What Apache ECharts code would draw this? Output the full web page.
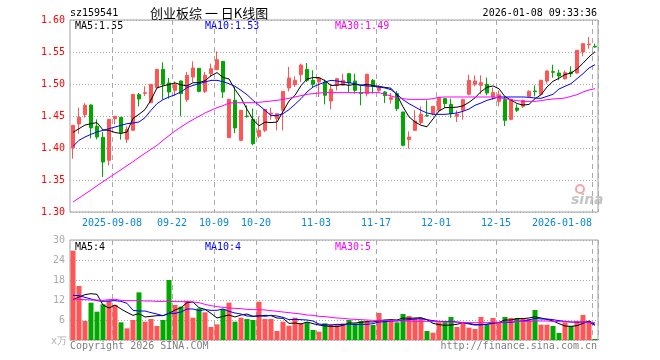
<!DOCTYPE html>
<html><head><meta charset="utf-8">
<script src="https://cdn.jsdelivr.net/npm/echarts@6/dist/echarts.min.js"></script>
<style>html,body{margin:0;padding:0;background:#fff}#c{width:660px;height:360px}</style>
</head><body><div id="c"></div>
<script>
const dates = ['2025-08-28','2025-08-29','2025-09-01','2025-09-02','2025-09-03','2025-09-04','2025-09-05','2025-09-08','2025-09-09','2025-09-10',
'2025-09-11','2025-09-12','2025-09-15','2025-09-16','2025-09-17','2025-09-18','2025-09-19','2025-09-22','2025-09-23','2025-09-24',
'2025-09-25','2025-09-26','2025-09-29','2025-09-30','2025-10-09','2025-10-10','2025-10-13','2025-10-14','2025-10-15','2025-10-16',
'2025-10-17','2025-10-20','2025-10-21','2025-10-22','2025-10-23','2025-10-24','2025-10-27','2025-10-28','2025-10-29','2025-10-30',
'2025-10-31','2025-11-03','2025-11-04','2025-11-05','2025-11-06','2025-11-07','2025-11-10','2025-11-11','2025-11-12','2025-11-13',
'2025-11-14','2025-11-17','2025-11-18','2025-11-19','2025-11-20','2025-11-21','2025-11-24','2025-11-25','2025-11-26','2025-11-27',
'2025-11-28','2025-12-01','2025-12-02','2025-12-03','2025-12-04','2025-12-05','2025-12-08','2025-12-09','2025-12-10','2025-12-11',
'2025-12-12','2025-12-15','2025-12-16','2025-12-17','2025-12-18','2025-12-19','2025-12-22','2025-12-23','2025-12-24','2025-12-25',
'2025-12-26','2025-12-29','2025-12-30','2025-12-31','2026-01-05','2026-01-06','2026-01-07','2026-01-08'];

const opens = [1.400,1.4375,1.452,1.4672,1.4339,1.4167,1.3807,1.4458,1.4479,1.4135,
1.4276,1.4833,1.4855,1.4708,1.4943,1.5229,1.5016,1.4901,1.5047,1.4755,
1.5109,1.5245,1.4885,1.5161,1.5224,1.5354,1.4161,1.4745,1.412,1.450,
1.4448,1.4182,1.4276,1.453,1.4458,1.4589,1.4938,1.499,1.5146,1.5229,
1.5057,1.5031,1.5031,1.4734,1.4979,1.4979,1.5161,1.5047,1.4865,1.4849,
1.5057,1.4901,1.4875,1.476,1.4849,1.4563,1.413,1.4276,1.4396,1.451,
1.4536,1.4589,1.4771,1.4682,1.4495,1.4589,1.4839,1.4995,1.4979,1.4995,
1.4797,1.4729,1.4755,1.4448,1.4625,1.4651,1.4807,1.4891,1.4839,1.5047,
1.5193,1.5172,1.5083,1.5188,1.5172,1.550,1.5615,1.5589];
const closes = [1.4354,1.4479,1.4667,1.4313,1.4172,1.3781,1.4448,1.4495,1.424,1.4292,
1.4839,1.4766,1.4865,1.4995,1.5229,1.4995,1.4875,1.499,1.4849,1.5135,
1.525,1.4885,1.5135,1.524,1.538,1.4875,1.476,1.4313,1.4589,1.449,
1.4068,1.4276,1.4604,1.4545,1.4536,1.4885,1.5094,1.5057,1.5297,1.5057,
1.4995,1.5094,1.4823,1.4917,1.5083,1.5057,1.5016,1.4901,1.4849,1.5151,
1.4964,1.4953,1.4818,1.4786,1.4615,1.4042,1.4172,1.4422,1.4526,1.450,
1.4651,1.4786,1.4693,1.4536,1.4526,1.4755,1.5057,1.5047,1.5021,1.4859,
1.4865,1.4833,1.4432,1.4755,1.4589,1.4745,1.4885,1.488,1.5057,1.5203,
1.5183,1.5125,1.5177,1.5161,1.5526,1.563,1.5625,1.5578];
const highs = [1.436,1.463,1.470,1.4682,1.4448,1.425,1.445,1.4495,1.448,1.4339,
1.484,1.486,1.4964,1.500,1.523,1.5339,1.5094,1.5042,1.5057,1.5188,
1.5354,1.5245,1.5188,1.5318,1.551,1.5354,1.477,1.4953,1.459,1.4667,
1.4615,1.4495,1.4604,1.463,1.4536,1.4885,1.5266,1.512,1.5318,1.5328,
1.5214,1.5109,1.5068,1.5005,1.5094,1.5161,1.5172,1.5161,1.4979,1.5161,
1.5078,1.4979,1.4891,1.4859,1.4891,1.4563,1.426,1.4589,1.4651,1.4745,
1.4651,1.4797,1.4771,1.4771,1.4589,1.4771,1.5146,1.5135,1.5135,1.5099,
1.4943,1.4901,1.4807,1.4771,1.4682,1.4755,1.4901,1.4979,1.5068,1.5214,
1.5302,1.5224,1.5214,1.5276,1.5526,1.563,1.5734,1.563];
const lows = [1.3833,1.4224,1.4474,1.4146,1.4135,1.3547,1.3729,1.437,1.413,1.4078,
1.4276,1.465,1.4813,1.470,1.494,1.476,1.4771,1.4813,1.4495,1.4719,
1.5031,1.487,1.4859,1.5109,1.5214,1.4781,1.4156,1.4234,1.4104,1.4474,
1.4042,1.4156,1.425,1.4443,1.4276,1.4276,1.4885,1.4953,1.5031,1.5031,
1.4953,1.4797,1.4682,1.4604,1.4901,1.4969,1.4875,1.4849,1.4667,1.4807,
1.4849,1.4875,1.4703,1.4693,1.4578,1.4026,1.399,1.4266,1.437,1.4495,
1.451,1.4563,1.463,1.4474,1.4406,1.4443,1.4823,1.4964,1.4839,1.4823,
1.4755,1.4651,1.4344,1.4432,1.4563,1.4625,1.4797,1.4807,1.4823,1.5005,
1.5099,1.5057,1.5068,1.5109,1.5161,1.5432,1.5552,1.5568];

const ma5 = [1.4245,1.4302,1.4359,1.438,1.4397,1.4282,1.4276,1.4242,1.4227,1.4251,
1.4463,1.4526,1.460,1.4751,1.4939,1.497,1.4992,1.5017,1.4988,1.4969,
1.502,1.5022,1.5051,1.5129,1.5178,1.5103,1.5078,1.4914,1.4783,1.4605,
1.4444,1.4347,1.4405,1.4397,1.4406,1.4569,1.4733,1.4823,1.4974,1.5078,
1.510,1.510,1.5053,1.4977,1.4982,1.4995,1.4979,1.4995,1.4981,1.4995,
1.4976,1.4964,1.4947,1.4934,1.4827,1.4643,1.4487,1.4407,1.4355,1.4332,
1.4454,1.4577,1.4631,1.4633,1.4638,1.4659,1.4713,1.4784,1.4881,1.4948,
1.497,1.4925,1.4802,1.4749,1.4695,1.4671,1.4681,1.4771,1.4831,1.4954,
1.5042,1.509,1.5149,1.517,1.5234,1.5324,1.5424,1.5504];
const ma10 = [1.4026,1.412,1.4172,1.4214,1.425,1.4276,1.4302,1.4328,1.4354,1.438,
1.4391,1.4406,1.4474,1.4589,1.4693,1.4755,1.4797,1.4833,1.4875,1.4943,
1.4979,1.5005,1.5031,1.5057,1.5057,1.5036,1.5005,1.4964,1.4901,1.4833,
1.4745,1.4667,1.4589,1.451,1.4505,1.4536,1.4599,1.4682,1.4771,1.4875,
1.4953,1.4995,1.5031,1.5057,1.5047,1.5031,1.5021,1.5005,1.4979,1.4969,
1.4964,1.4953,1.4938,1.4911,1.4839,1.4755,1.4693,1.4641,1.4589,1.4547,
1.4526,1.4526,1.4526,1.4536,1.4547,1.4573,1.4609,1.4667,1.4703,1.4745,
1.4771,1.4797,1.4797,1.4797,1.4797,1.4797,1.4792,1.4781,1.4776,1.4807,
1.4839,1.4922,1.4964,1.5005,1.5083,1.5161,1.525,1.5302];
const ma30 = [1.3156,1.3219,1.3281,1.3344,1.3411,1.3474,1.3536,1.3599,1.3661,1.3724,
1.3786,1.3854,1.3917,1.3979,1.4042,1.412,1.4193,1.4266,1.4328,1.4391,
1.4443,1.4495,1.4547,1.4589,1.463,1.4661,1.4703,1.4708,1.4708,1.4708,
1.4708,1.4714,1.4724,1.4734,1.4745,1.476,1.4776,1.4797,1.4818,1.4839,
1.4849,1.4859,1.4865,1.4865,1.4865,1.4865,1.4865,1.4865,1.4865,1.4865,
1.4865,1.4865,1.4839,1.4813,1.4786,1.4771,1.476,1.476,1.476,1.476,
1.4771,1.4792,1.4797,1.4797,1.4797,1.4797,1.4797,1.4797,1.4797,1.4797,
1.4797,1.4786,1.4771,1.4755,1.474,1.4729,1.4729,1.4729,1.474,1.4755,
1.4766,1.4771,1.4781,1.4807,1.4833,1.4875,1.4906,1.4927];

const volumes = [26.8,16.2,5.7,11.2,8.5,10.7,11.7,10.5,5.3,3.5,
6.0,14.3,5.5,6.3,4.2,6.0,18.0,10.5,10.0,11.7,
6.7,9.5,8.3,3.9,4.7,9.3,11.2,5.5,6.7,6.3,
6.0,11.5,6.3,6.3,2.7,5.5,4.3,6.7,5.0,5.3,
3.0,2.5,5.0,4.7,4.7,5.0,6.0,5.0,5.7,5.7,
4.5,8.1,6.0,6.0,5.3,7.8,7.2,6.5,6.5,2.7,
2.2,5.3,5.3,6.9,3.9,5.3,3.7,3.3,6.9,4.5,
6.6,5.3,6.9,6.6,6.6,6.6,6.3,9.0,4.6,4.6,
4.2,2.1,5.3,4.2,5.7,7.5,5.7,0.3];
const vma5 = [12.1,12.9,13.6,13.9,13.7,10.5,9.6,10.5,9.3,8.3,
7.4,7.9,6.9,7.1,7.3,7.3,8.0,9.0,9.7,11.2,
11.4,9.7,9.2,8.0,6.6,7.1,7.5,6.9,7.5,7.8,
7.1,7.2,7.4,7.3,6.6,6.5,5.0,5.1,4.8,5.4,
4.9,4.5,4.2,4.1,4.0,4.4,5.1,5.1,5.3,5.5,
5.4,5.8,6.0,6.1,6.0,6.6,6.5,6.6,6.7,6.1,
5.0,4.6,4.4,4.5,4.7,5.3,5.0,4.6,4.6,4.7,
5.0,5.3,6.0,6.0,6.4,6.4,6.6,7.0,6.6,6.2,
5.7,4.9,4.2,4.1,4.3,5.0,5.7,4.7];
const vma10 = [13.4,13.3,12.8,12.3,11.8,11.6,11.7,11.8,11.6,11.0,
8.9,8.7,8.7,8.2,7.8,7.3,8.0,8.0,8.4,9.3,
9.3,8.8,9.1,8.9,8.9,9.3,8.6,8.1,7.8,7.2,
7.1,7.3,7.1,7.4,7.2,6.8,6.1,6.2,6.1,6.0,
5.7,4.8,4.6,4.5,4.7,4.6,4.8,4.6,4.7,4.7,
4.9,5.4,5.5,5.7,5.7,6.0,6.1,6.3,6.4,6.1,
5.8,5.6,5.5,5.6,5.4,5.2,4.8,4.5,4.6,4.7,
5.2,5.2,5.3,5.3,5.6,5.7,6.0,6.5,6.3,6.3,
6.1,5.8,5.6,5.4,5.3,5.4,5.3,4.4];
const vma30 = [12.3,12.2,12.1,12.0,12.0,11.9,12.1,12.2,11.9,11.8,
11.8,11.8,11.7,11.7,11.6,11.6,11.6,11.5,11.5,11.5,
11.4,11.2,10.7,10.3,10.0,9.8,9.6,9.5,9.4,9.2,
9.1,9.1,9.0,8.8,8.6,8.4,8.2,8.0,7.8,7.5,
7.4,7.1,7.0,6.8,6.6,6.5,6.3,6.2,6.1,6.0,
5.9,5.9,5.9,5.8,5.8,5.7,5.7,5.6,5.6,5.6,
5.5,5.5,5.4,5.4,5.3,5.3,5.2,5.2,5.2,5.2,
5.3,5.3,5.4,5.5,5.5,5.6,5.6,5.7,5.7,5.7,
5.6,5.5,5.5,5.4,5.4,5.4,5.3,5.2];

const tickDates = ['2025-09-08','2025-09-22','2025-10-09','2025-10-20','2025-11-03','2025-11-17','2025-12-01','2025-12-15','2026-01-08'];
const tickLabels = ['2025-09-08','09-22','10-09','10-20','11-03','11-17','12-01','12-15','2026-01-08'];
const priceTicks = [1.30,1.35,1.40,1.45,1.50,1.55,1.60];
const volTicks = [0,6,12,18,24,30];

const UP = '#ff5555', DOWN = '#00a800';
const MONO = '"DejaVu Sans Mono", "Liberation Mono", monospace';
const tickIdx = tickDates.map(d => dates.indexOf(d));
const isTick = (i) => tickIdx.indexOf(i) >= 0;

const candleData = dates.map((d, i) => [opens[i], closes[i], lows[i], highs[i]]);
const volData = volumes.map((v, i) => ({ value: v, itemStyle: { color: closes[i] >= opens[i] ? UP : DOWN } }));

const dashV = { show: true, interval: (i) => isTick(i), lineStyle: { color: '#aaaaaa', type: [5, 4], width: 1 } };
const dotH = { show: true, lineStyle: { color: '#aaaaaa', type: [1, 2], width: 1 } };

function txt(text, x, y, color, align, size, family) {
  return { type: 'text', x: x, y: y, silent: true,
    style: { text: text, fill: color, font: (size || 10) + 'px ' + (family || MONO),
      align: align || 'left', textAlign: align || 'left', verticalAlign: 'middle', textVerticalAlign: 'middle' } };
}

const chart = echarts.init(document.getElementById('c'), null, { renderer: 'canvas' });
chart.setOption({
  animation: false,
  backgroundColor: '#ffffff',
  grid: [
    { left: 70, top: 20, width: 528, height: 192, show: true, borderColor: '#a0a0a0', borderWidth: 1, backgroundColor: 'transparent' },
    { left: 70, top: 240, width: 528, height: 100, show: true, borderColor: '#a0a0a0', borderWidth: 1, backgroundColor: 'transparent' }
  ],
  xAxis: [
    { type: 'category', gridIndex: 0, data: dates, boundaryGap: true,
      axisLine: { show: false }, axisTick: { show: false },
      axisLabel: { interval: (i) => isTick(i), color: '#0a86d8', fontFamily: MONO, fontSize: 10, margin: 6,
        formatter: (v) => { const k = tickDates.indexOf(v); if (k < 0) return ''; return k === tickDates.length - 1 ? '{e|' + tickLabels[k] + '}' : '{n|' + tickLabels[k] + '}'; },
        rich: { n: { padding: [0, 6, 0, 0], color: '#0a86d8', fontFamily: MONO, fontSize: 10 }, e: { padding: [0, 66, 0, 0], color: '#0a86d8', fontFamily: MONO, fontSize: 10 } } },
      splitLine: dashV },
    { type: 'category', gridIndex: 1, data: dates, boundaryGap: true,
      axisLine: { show: false }, axisTick: { show: false }, axisLabel: { show: false },
      splitLine: dashV }
  ],
  yAxis: [
    { type: 'value', gridIndex: 0, min: priceTicks[0], max: priceTicks[priceTicks.length - 1], interval: 0.05,
      axisLine: { show: false }, axisTick: { show: false },
      axisLabel: { color: '#ff0000', fontFamily: MONO, fontSize: 10, margin: 5, formatter: (v) => v.toFixed(2) },
      splitLine: dotH },
    { type: 'value', gridIndex: 1, min: volTicks[0], max: volTicks[volTicks.length - 1], interval: 6,
      axisLine: { show: false }, axisTick: { show: false },
      axisLabel: { color: '#aaaaaa', fontFamily: MONO, fontSize: 10, margin: 5, formatter: (v) => v === 0 ? '' : String(v) },
      splitLine: dotH }
  ],
  series: [
    { type: 'candlestick', xAxisIndex: 0, yAxisIndex: 0, data: candleData, barWidth: 4,
      itemStyle: { color: UP, color0: DOWN, borderColor: UP, borderColor0: DOWN, borderWidth: 1 } },
    { type: 'line', xAxisIndex: 0, yAxisIndex: 0, data: ma5, showSymbol: false, symbol: 'none', lineStyle: { color: '#000000', width: 1 } },
    { type: 'line', xAxisIndex: 0, yAxisIndex: 0, data: ma10, showSymbol: false, symbol: 'none', lineStyle: { color: '#0000ff', width: 1 } },
    { type: 'line', xAxisIndex: 0, yAxisIndex: 0, data: ma30, showSymbol: false, symbol: 'none', lineStyle: { color: '#ff00ff', width: 1 } },
    { type: 'bar', xAxisIndex: 1, yAxisIndex: 1, data: volData, barWidth: 5 },
    { type: 'line', xAxisIndex: 1, yAxisIndex: 1, data: vma5, showSymbol: false, symbol: 'none', lineStyle: { color: '#000000', width: 1 } },
    { type: 'line', xAxisIndex: 1, yAxisIndex: 1, data: vma10, showSymbol: false, symbol: 'none', lineStyle: { color: '#0000ff', width: 1 } },
    { type: 'line', xAxisIndex: 1, yAxisIndex: 1, data: vma30, showSymbol: false, symbol: 'none', lineStyle: { color: '#ff00ff', width: 1 } }
  ],
  graphic: [
    txt('sz159541', 70, 13, '#000000'),
    txt('创业板综 一 日K线图', 150, 13, '#000000', 'left', 13, '"Noto Sans CJK SC", sans-serif'),
    txt('2026-01-08 09:33:36', 597, 13, '#000000', 'right'),
    txt('MA5:1.55', 75, 26, '#000000'),
    txt('MA10:1.53', 205, 26, '#0000ff'),
    txt('MA30:1.49', 335, 26, '#ff00ff'),
    txt('MA5:4', 75, 247, '#000000'),
    txt('MA10:4', 205, 247, '#0000ff'),
    txt('MA30:5', 335, 247, '#ff00ff'),
    txt('x万', 67, 341, '#b0b0b0', 'right'),
    txt('Copyright 2026 SINA.COM', 70, 346, '#808080'),
    txt('http://finance.sina.com.cn', 597, 346, '#808080', 'right'),
    { type: 'circle', silent: true, shape: { cx: 580, cy: 189, r: 4 }, style: { fill: 'none', stroke: '#f2a8a8', lineWidth: 2 } },
    { type: 'text', x: 571, y: 200, silent: true, style: { text: 'sina', fill: '#c4c4c4', font: 'italic bold 14px "DejaVu Sans", sans-serif', align: 'left', textAlign: 'left', verticalAlign: 'middle', textVerticalAlign: 'middle' } }
  ]
});
</script>
</body></html>
